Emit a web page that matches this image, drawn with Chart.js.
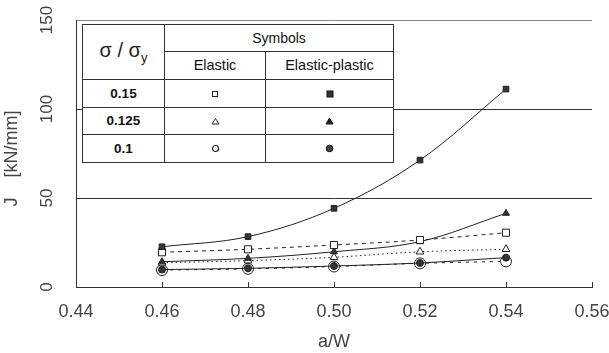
<!DOCTYPE html>
<html><head><meta charset="utf-8">
<script src="https://cdn.jsdelivr.net/npm/chart.js@4.4.0/dist/chart.umd.min.js"></script>
<style>
html,body{margin:0;padding:0;background:#fff;}
#wrap{position:relative;width:609px;height:353px;overflow:hidden;}
canvas{position:absolute;left:0;top:0;}
table{position:absolute;left:82px;top:24px;width:311px;height:138px;border-collapse:collapse;background:#fff;font-family:"Liberation Sans",Arial,sans-serif;font-size:14px;color:#111;table-layout:fixed;}
td{border:1px solid #333;text-align:center;vertical-align:middle;padding:0;line-height:1;}
td.num{font-weight:bold;font-size:13.5px;}
td.sig{font-size:20px;font-family:"Liberation Sans",sans-serif;font-weight:normal;color:#222;}
td.sig sub{font-size:13px;}
svg{display:block;margin:0 auto;}
</style></head>
<body><div id="wrap"><canvas id="c" width="609" height="353"></canvas>
<table>
<colgroup><col style="width:82px"><col style="width:101px"><col style="width:128px"></colgroup>
<tr style="height:27px"><td rowspan="2" class="sig">σ / σ<sub>y</sub></td><td colspan="2">Symbols</td></tr>
<tr style="height:28px"><td style="font-size:14.5px">Elastic</td><td style="font-size:14.5px">Elastic-plastic</td></tr>
<tr style="height:28px"><td class="num">0.15</td>
<td><svg width="8" height="8"><rect x="1.5" y="1.5" width="5" height="5" fill="#fff" stroke="#222" stroke-width="1"/></svg></td>
<td><svg width="8" height="8"><rect x="1" y="1" width="6" height="6" fill="#333" stroke="#111" stroke-width="1"/></svg></td></tr>
<tr style="height:27px"><td class="num">0.125</td>
<td><svg width="9" height="8"><polygon points="4.5,1.5 8,7 1,7" fill="#fff" stroke="#222" stroke-width="1"/></svg></td>
<td><svg width="9" height="8"><polygon points="4.5,1 8,7 1,7" fill="#222" stroke="#111" stroke-width="1"/></svg></td></tr>
<tr style="height:28px"><td class="num">0.1</td>
<td><svg width="9" height="9"><circle cx="4.5" cy="4.5" r="3" fill="#fff" stroke="#222" stroke-width="1.2"/></svg></td>
<td><svg width="9" height="9"><circle cx="4.5" cy="4.5" r="3.3" fill="#444" stroke="#111" stroke-width="1"/></svg></td></tr>
</table>
</div>
<script>
const aW = [0.46, 0.48, 0.50, 0.52, 0.54];
const elasticPlastic015 = [22.6, 28.3, 44.2, 71.3, 111.2];
const elastic015 = [19.5, 21.2, 23.6, 26.4, 30.5];
const elasticPlastic0125 = [14.2, 16.1, 19.8, 25.5, 41.4];
const elastic0125 = [13.6, 14.8, 16.7, 19.8, 21.2];
const elasticPlastic01 = [9.8, 10.5, 11.8, 13.5, 16.5];
const elastic01 = [9.5, 10.2, 11.5, 13.3, 14.4];
const xTicks = [0.44, 0.46, 0.48, 0.50, 0.52, 0.54, 0.56];
const yTicks = [0, 50, 100, 150];

const pts = arr => arr.map((v, i) => ({x: aW[i], y: v}));
const INK = '#222';
const FONT = '"Liberation Sans", Arial, sans-serif';

function ds(label, data, style, radius, filled, dash) {
  return {
    label, data: pts(data),
    borderColor: INK, borderWidth: 1, borderDash: dash,
    pointStyle: style, pointRadius: radius,
    pointBackgroundColor: filled ? '#333' : '#fff',
    pointBorderColor: INK, pointBorderWidth: 1,
    tension: 0.35, fill: false
  };
}

const customAxes = {
  id: 'customAxes',
  afterDraw(chart) {
    const ctx = chart.ctx, ys = chart.scales.y, xs = chart.scales.x, a = chart.chartArea;
    ctx.save();
    ctx.fillStyle = '#444';
    ctx.font = '17px ' + FONT;
    ctx.textAlign = 'center';
    ctx.textBaseline = 'middle';
    yTicks.forEach(v => {
      const py = ys.getPixelForValue(v);
      ctx.save();
      ctx.translate(47, py);
      ctx.rotate(-Math.PI / 2);
      ctx.fillText(String(v), 0, 0);
      ctx.restore();
    });
    ctx.strokeStyle = '#333';
    ctx.lineWidth = 1;
    xTicks.forEach(v => {
      const px = Math.round(xs.getPixelForValue(v)) + 0.5;
      ctx.beginPath();
      ctx.moveTo(px, a.bottom);
      ctx.lineTo(px, a.bottom - 5);
      ctx.stroke();
    });
    ctx.restore();
  }
};

new Chart(document.getElementById('c'), {
  type: 'line',
  data: {
    datasets: [
      ds('Elastic-plastic 0.15', elasticPlastic015, 'rect', 4, true, []),
      ds('Elastic 0.15', elastic015, 'rect', 5, false, [4, 4]),
      ds('Elastic-plastic 0.125', elasticPlastic0125, 'triangle', 4, true, []),
      ds('Elastic 0.125', elastic0125, 'triangle', 4.5, false, [1.5, 3]),
      ds('Elastic-plastic 0.1', elasticPlastic01, 'circle', 3.5, true, []),
      ds('Elastic 0.1', elastic01, 'circle', 5.5, false, [3, 5])
    ]
  },
  options: {
    responsive: false, animation: false, devicePixelRatio: 1,
    layout: {padding: {left: 0, right: 17, top: 20, bottom: 0}},
    plugins: {legend: {display: false}, tooltip: {enabled: false}},
    scales: {
      x: {
        type: 'linear', min: 0.44, max: 0.56,
        afterBuildTicks: s => { s.ticks = xTicks.map(v => ({value: v})); },
        afterFit: s => { s.height = 66; s.paddingRight = 0; s.paddingLeft = 0; },
        grid: {display: false},
        border: {display: true, color: '#333', width: 1},
        ticks: {
          callback: v => Number(v).toFixed(2), color: '#444',
          font: {family: FONT, size: 18},
          padding: 6, maxRotation: 0, autoSkip: false
        },
        title: {display: true, text: 'a/W', color: '#444',
          font: {family: FONT, size: 18},
          padding: {top: 0, bottom: 0}}
      },
      y: {
        min: 0, max: 150,
        afterBuildTicks: s => { s.ticks = yTicks.map(v => ({value: v})); },
        afterFit: s => { s.width = 76; },
        grid: {
          color: c => c.tick && c.tick.value === 150 ? '#888' : (c.tick && c.tick.value === 0 ? 'rgba(0,0,0,0)' : '#333'),
          lineWidth: 1, drawTicks: false
        },
        border: {display: true, color: '#333', width: 1},
        ticks: {display: false},
        title: {display: true, text: 'J    [kN/mm]  ', color: '#444',
          font: {family: FONT, size: 18},
          padding: {top: 1, bottom: 0}}
      }
    }
  },
  plugins: [customAxes]
});
</script>
</body></html>
